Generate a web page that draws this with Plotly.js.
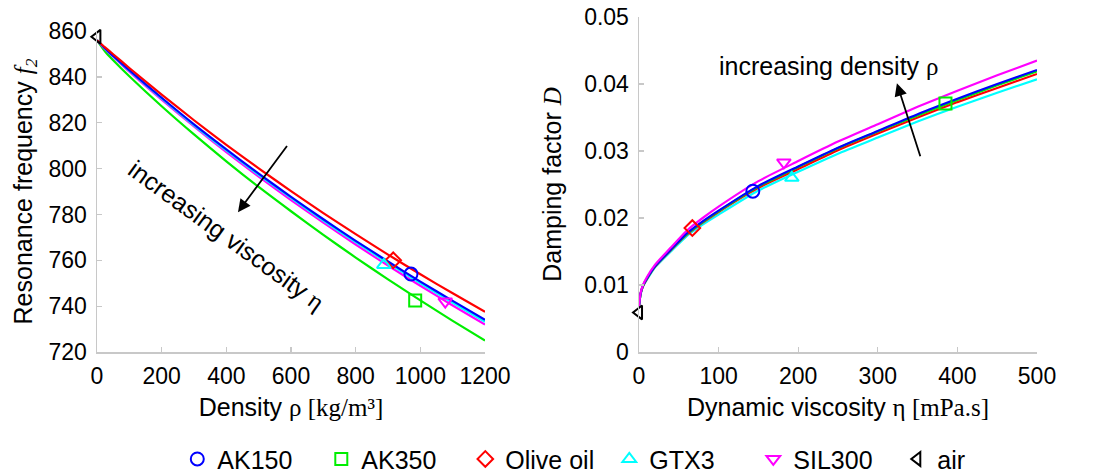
<!DOCTYPE html>
<html>
<head>
<meta charset="utf-8">
<script src="https://cdn.plot.ly/plotly-3.0.1.min.js"></script>
<style>html,body{margin:0;padding:0;background:#fff;}#chart{width:1100px;height:475px;}</style>
</head>
<body>
<div id="chart"></div>
<script>
// ---------- Left panel: resonance frequency vs density ----------
const densityGrid = [0, 25, 50, 100, 200, 300, 400, 500, 600, 700, 800, 900, 1000, 1100, 1200];
const f2_OliveOil = [856, 852.9, 849.9, 843.9, 832.3, 821.1, 810.4, 800.1, 790.2, 780.6, 771.4, 762.5, 753.9, 745.6, 737.5];
const f2_AK150    = [856, 852.4, 849.2, 842.9, 830.9, 819.3, 808.4, 797.8, 787.7, 777.9, 768.5, 759.5, 750.7, 742.3, 734.0];
const f2_GTX3     = [856, 852.3, 849.0, 842.7, 830.6, 818.9, 807.9, 797.3, 787.2, 777.3, 767.9, 758.8, 750.0, 741.5, 733.2];
const f2_SIL300   = [856, 852.1, 848.8, 842.3, 830.1, 818.4, 807.2, 796.5, 786.3, 776.4, 766.9, 757.7, 748.9, 740.3, 732.0];
const f2_AK350    = [856, 851.1, 847.3, 840.3, 827.2, 814.9, 803.2, 792.0, 781.4, 771.1, 761.2, 751.7, 742.5, 733.6, 725.0];

// ---------- Right panel: damping factor vs viscosity ----------
const viscGrid = [0, 2, 5, 10, 20, 40, 60, 80, 100, 150, 200, 250, 300, 350, 400, 450, 500];
const D_SIL300   = [0.0068, 0.0088, 0.0100, 0.0112, 0.0130, 0.0156, 0.0181, 0.0200, 0.0217, 0.0255, 0.0285, 0.0314, 0.0340, 0.0366, 0.0390, 0.0413, 0.0435];
const D_AK150    = [0.0068, 0.0087, 0.0099, 0.0110, 0.0128, 0.0153, 0.0177, 0.0195, 0.0211, 0.0248, 0.0277, 0.0305, 0.0330, 0.0355, 0.0378, 0.0400, 0.0421];
const D_AK350    = [0.0068, 0.0087, 0.0099, 0.0110, 0.0128, 0.0153, 0.0176, 0.0194, 0.0210, 0.0247, 0.0276, 0.0304, 0.0329, 0.0353, 0.0376, 0.0398, 0.0419];
const D_OliveOil = [0.0068, 0.0087, 0.0098, 0.0109, 0.0127, 0.0152, 0.0175, 0.0193, 0.0209, 0.0245, 0.0273, 0.0301, 0.0326, 0.0350, 0.0373, 0.0394, 0.0415];
const D_GTX3     = [0.0068, 0.0086, 0.0098, 0.0108, 0.0126, 0.0150, 0.0173, 0.0190, 0.0205, 0.0241, 0.0269, 0.0296, 0.0320, 0.0344, 0.0366, 0.0387, 0.0407];

// ---------- Measured points ----------
const fluids        = ["AK150", "AK350", "Olive oil", "GTX3", "SIL300", "air"];
const fluidDensity  = [971, 984, 916, 887, 1077, 1.2];
const fluidF2       = [754, 742.5, 760, 758, 742, 857.5];
const fluidVisc     = [143, 385, 67, 192, 182, 0.02];
const fluidD        = [0.0240, 0.0371, 0.0185, 0.0260, 0.0283, 0.0059];

const colors  = ["#0000ff", "#00ee00", "#ff0000", "#00ffff", "#ff00ff", "#000000"];
const symbols = ["circle-open", "square-open", "diamond-open", "triangle-up-open", "triangle-down-open", "triangle-left-open"];

const FONT = "Liberation Sans, Arial, sans-serif";
const SERIF = "Liberation Serif, Times New Roman, serif";

const traces = [];
function line(x, y, color, xa, ya) {
  traces.push({x: x, y: y, mode: "lines", type: "scatter", xaxis: xa, yaxis: ya,
    line: {color: color, width: 2.2, shape: "spline", smoothing: 0.6}, showlegend: false, hoverinfo: "skip"});
}
// left curves
line(densityGrid, f2_AK350, colors[1], "x", "y");
line(densityGrid, f2_SIL300, colors[4], "x", "y");
line(densityGrid, f2_GTX3, colors[3], "x", "y");
line(densityGrid, f2_AK150, colors[0], "x", "y");
line(densityGrid, f2_OliveOil, colors[2], "x", "y");
// right curves
line(viscGrid, D_GTX3, colors[3], "x2", "y2");
line(viscGrid, D_OliveOil, colors[2], "x2", "y2");
line(viscGrid, D_AK350, colors[1], "x2", "y2");
line(viscGrid, D_AK150, colors[0], "x2", "y2");
line(viscGrid, D_SIL300, colors[4], "x2", "y2");

for (let i = 0; i < fluids.length; i++) {
  const mk = {symbol: symbols[i], color: colors[i], size: i === 0 ? 13 : 12, line: {width: 2, color: colors[i]}};
  traces.push({x: [fluidDensity[i]], y: [fluidF2[i]], mode: "markers", type: "scatter", name: fluids[i],
    xaxis: "x", yaxis: "y", marker: mk, cliponaxis: false, showlegend: true});
  traces.push({x: [fluidVisc[i]], y: [fluidD[i]], mode: "markers", type: "scatter", name: fluids[i],
    xaxis: "x2", yaxis: "y2", marker: mk, cliponaxis: false, showlegend: false});
}

const axCommon = {
  showgrid: false, zeroline: false, showline: true, linecolor: "#c8c8c8", linewidth: 1.5,
  ticks: "inside", ticklen: 5, tickcolor: "#c8c8c8", tickwidth: 1.2,
  tickfont: {family: FONT, size: 23, color: "#000"}, mirror: false
};
const TITLE_FONT = {family: FONT, size: 25, color: "#000"};

const layout = {
  width: 1100, height: 475,
  margin: {l: 97, r: 63, t: 17, b: 123, autoexpand: false},
  paper_bgcolor: "#fff", plot_bgcolor: "#fff",
  font: {family: FONT, color: "#000"},
  xaxis: Object.assign({}, axCommon, {
    domain: [0, 0.4128], range: [0, 1200], tickvals: [0, 200, 400, 600, 800, 1000, 1200], anchor: "y",
    ticklabelstandoff: 3,
    title: {text: "Density <span style=\"font-family:" + SERIF + "\">ρ [kg/m³]</span>", font: TITLE_FONT, standoff: 10}
  }),
  yaxis: Object.assign({}, axCommon, {
    domain: [0, 0.958], range: [720, 860], tickvals: [720, 740, 760, 780, 800, 820, 840, 860], anchor: "x",
    ticklabelstandoff: 4,
    title: {text: "Resonance frequency <span style=\"font-family:" + SERIF + "\"><i>f</i><sub><i>2</i></sub></span>", font: TITLE_FONT, standoff: 9}
  }),
  xaxis2: Object.assign({}, axCommon, {
    domain: [0.5766, 1], range: [0, 500], tickvals: [0, 100, 200, 300, 400, 500], anchor: "y2",
    ticklabelstandoff: 3,
    title: {text: "Dynamic viscosity <span style=\"font-family:" + SERIF + "\">η [mPa.s]</span>", font: TITLE_FONT, standoff: 10}
  }),
  yaxis2: Object.assign({}, axCommon, {
    domain: [0, 1], range: [0, 0.05], tickvals: [0, 0.01, 0.02, 0.03, 0.04, 0.05],
    ticktext: ["0", "0.01", "0.02", "0.03", "0.04", "0.05"], anchor: "x2",
    ticklabelstandoff: 4,
    title: {text: "Damping factor <span style=\"font-family:" + SERIF + "\"><i>D</i></span>", font: TITLE_FONT, standoff: 15}
  }),
  legend: {
    orientation: "h", x: 0.545, xanchor: "center", y: -0.32, yanchor: "middle",
    font: {family: FONT, size: 25, color: "#000"}, itemwidth: 30, bgcolor: "rgba(0,0,0,0)",
    entrywidth: 99, entrywidthmode: "pixels"
  },
  annotations: [
    {xref: "x", yref: "y", x: 400, y: 771, text: "increasing viscosity <span style=\"font-family:" + SERIF + "\">η</span>",
     showarrow: false, textangle: 36, font: {family: FONT, size: 25, color: "#000"}},
    {xref: "x", yref: "y", axref: "x", ayref: "y", x: 436, y: 781, ax: 591, ay: 810.5, text: "",
     showarrow: true, arrowhead: 2, arrowsize: 1.4, arrowwidth: 1.8, arrowcolor: "#000"},
    {xref: "x2", yref: "y2", x: 239, y: 0.0427, text: "increasing density <span style=\"font-family:" + SERIF + "\">ρ</span>",
     showarrow: false, font: {family: FONT, size: 25, color: "#000"}},
    {xref: "x2", yref: "y2", axref: "x2", ayref: "y2", x: 324, y: 0.0401, ax: 354, ay: 0.029, text: "",
     showarrow: true, arrowhead: 2, arrowsize: 1.4, arrowwidth: 1.8, arrowcolor: "#000"}
  ]
};

Plotly.newPlot("chart", traces, layout, {displayModeBar: false, staticPlot: true});
</script>
</body>
</html>
